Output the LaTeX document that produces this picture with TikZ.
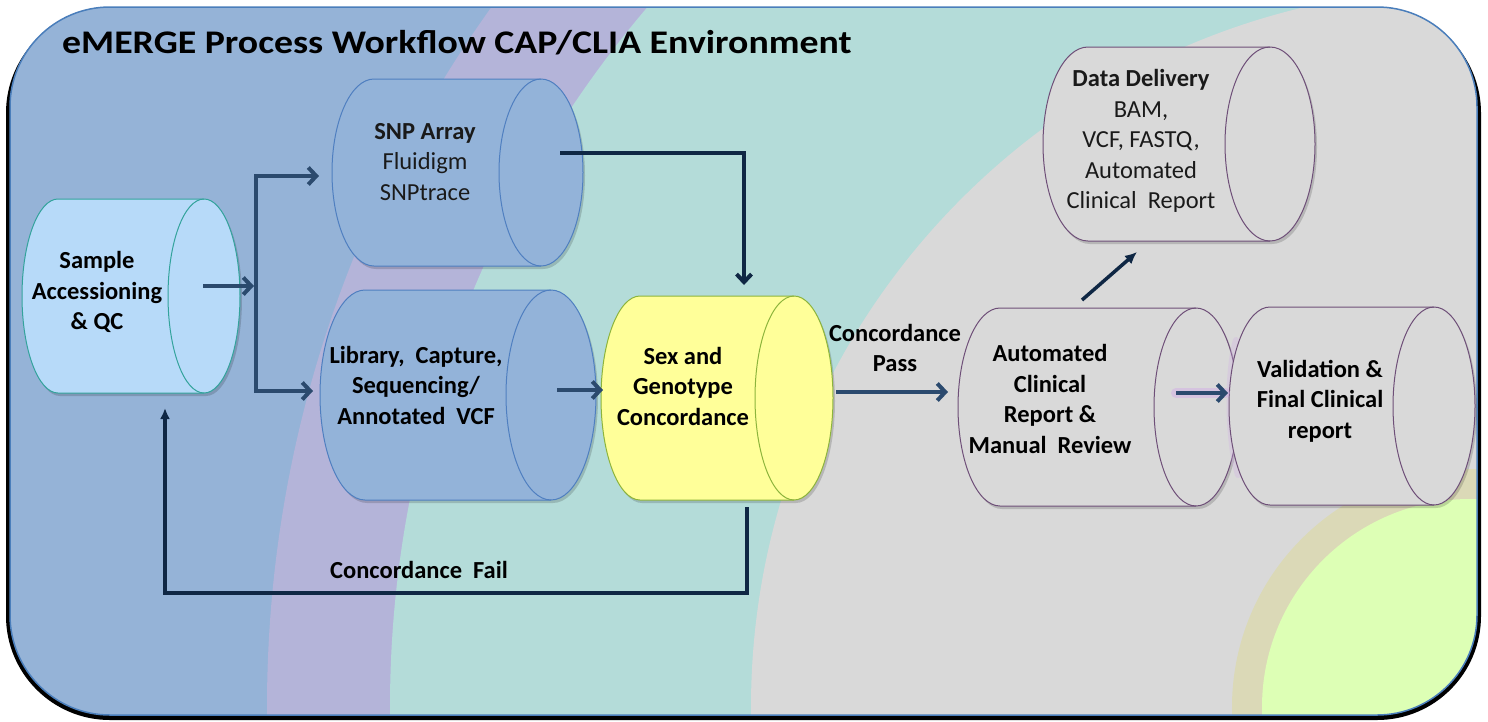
\documentclass[tikz,border=0pt]{standalone}
\usepackage{fontspec}
\setmainfont{Carlito}
\usetikzlibrary{arrows.meta,calc}

\definecolor{bgblue}{HTML}{95B3D7}
\definecolor{bgpurple}{HTML}{B4B4D9}
\definecolor{bgteal}{HTML}{B4DCD9}
\definecolor{bggrey}{HTML}{D9D9D9}
\definecolor{bgtan}{HTML}{DBD9B7}
\definecolor{bggreen}{HTML}{DDFFB5}
\definecolor{rim}{HTML}{4A7EBB}
\definecolor{navy}{HTML}{2B4A6E}
\definecolor{deepnavy}{HTML}{0F2744}
\definecolor{paleblue}{HTML}{B7DAF9}
\definecolor{tealline}{HTML}{33A39C}
\definecolor{midblue}{HTML}{93B3D9}
\definecolor{blueline}{HTML}{4F7FC0}
\definecolor{lemon}{HTML}{FFFF99}
\definecolor{oliveline}{HTML}{8DB43C}
\definecolor{stone}{HTML}{D9D9D9}
\definecolor{plumline}{HTML}{6E4F78}
\definecolor{lilac}{HTML}{D2AEE6}
\definecolor{ink}{HTML}{1A1A1A}

% drum-shaped process box lying on its side:
% #1 name, #2 style, #3 left, #4 top, #5 right, #6 bottom, #7 end radius
\newcommand\drum[7]{%
  \pgfmathsetmacro\drumry{(#6-#4)/2}%
  \node[minimum width={(#5-#3)*1pt}, minimum height={(#6-#4)*1pt},
        inner sep=0pt, outer sep=0pt] (#1) at ({(#3+#5)/2},{(#4+#6)/2}) {};
  \fill[black, opacity=0.16] ({#3+#7+2},{#4+3})
     arc[start angle=90, end angle=270, x radius=#7pt, y radius=\drumry pt]
     -- ({#5-#7+2},{#6+3})
     arc[start angle=-90, end angle=90, x radius=#7pt, y radius=\drumry pt] -- cycle;
  \path[#2] ({#3+#7},#4)
     arc[start angle=90, end angle=270, x radius=#7pt, y radius=\drumry pt]
     -- ({#5-#7},#6)
     arc[start angle=-90, end angle=90, x radius=#7pt, y radius=\drumry pt] -- cycle;
  \draw[#2, fill=none] ({#5-#7},#4)
     arc[start angle=90, end angle=270, x radius=#7pt, y radius=\drumry pt];
}

\newcommand\wsp{\hspace{0.45em}}

\begin{document}
\begin{tikzpicture}[x=1pt, y=-1pt,
  drumsample/.style={fill=paleblue, draw=tealline, line width=1pt},
  drumblue/.style={fill=midblue, draw=blueline, line width=1pt},
  drumyellow/.style={fill=lemon, draw=oliveline, line width=1pt},
  drumgrey/.style={fill=stone, draw=plumline, line width=1pt},
  lbl/.style={font=\bfseries\fontsize{24.5}{30.5}\selectfont, align=center,
              inner sep=0pt, text=black},
  lblr/.style={font=\fontsize{24.5}{30.5}\selectfont, align=center,
               inner sep=0pt, text=ink},
  flow/.style={draw=navy, line width=4pt, -{Straight Barb[length=8pt,width=17pt]}},
  trunk/.style={draw=navy, line width=4pt, line cap=rect},
  flowdark/.style={draw=deepnavy, line width=4pt,
                   -{Straight Barb[length=8pt,width=15pt]}},
  failflow/.style={draw=deepnavy, line width=4.5pt,
                   -{Latex[length=11pt,width=10pt]}},
  thinflow/.style={draw=deepnavy, line width=3.5pt,
                   -{Latex[length=12pt,width=11pt]}},
  glow/.style={draw=lilac, line width=10pt, opacity=0.5, line cap=round}
]

\useasboundingbox (0,0) rectangle (1488,721);
\fill[white] (0,0) rectangle (1488,721);

% frame with its dark shadow
\fill[black, rounded corners=104pt] (6,9) rectangle (1481,720);
\begin{scope}
  \clip[rounded corners=100pt] (10,7) rectangle (1477,715);
  \fill[bgblue]   (10,7) rectangle (1477,715);
  \fill[bgpurple] (1470,707) circle[radius=1203pt];
  \fill[bgteal]   (1470,707) circle[radius=1080pt];
  \fill[bggrey]   (1470,707) circle[radius=719pt];
  \fill[bgtan]    (1470,707) circle[radius=238pt];
  \fill[bggreen]  (1470,707) circle[radius=208pt];
\end{scope}
\draw[rim, line width=1.5pt, rounded corners=100pt] (10,7) rectangle (1477,715);

% heading
\node[anchor=base west, inner sep=0pt, font=\bfseries\fontsize{33}{40}\selectfont]
  (title) at (62,53) {\scalebox{1.146}[1]{eMERGE Process Workflow CAP/CLIA Environment}};

% process drums
\drum{sample}{drumsample}{22}{199}{240}{393}{36}
\drum{snp}{drumblue}{332}{79}{583}{266}{42}
\drum{lib}{drumblue}{320}{290}{596}{500}{45}
\drum{sex}{drumyellow}{601}{296}{833}{500}{39}
\drum{data}{drumgrey}{1043}{47}{1315}{241}{45}
\drum{auto}{drumgrey}{958}{308}{1238}{506}{42}
\draw[glow, line width=6pt, opacity=0.3] (1236,340) .. controls (1227,370) and (1227,440) .. (1238,475);
\drum{valid}{drumgrey}{1229}{307}{1475}{505}{41}

% drum labels
\node[lbl] (sampletxt) at (97,292) {Sample\\Accessioning\\\& QC};
\node[lblr] (snptxt) at (425,162) {\textbf{SNP Array}\\Fluidigm\\SNPtrace};
\node[lbl] (libtxt) at (416,385) {Library,\wsp Capture,\\Sequencing/\\Annotated\wsp VCF};
\node[lbl] (sextxt) at (683,386) {Sex and\\Genotype\\Concordance};
\node[lblr] (datatxt) at (1141,141) {\textbf{Data Delivery}\\BAM,\\VCF, FASTQ,\\Automated\\Clinical\wsp Report};
\node[lbl] (autotxt) at (1050,399) {Automated\\Clinical\\Report \&\\Manual\wsp Review};
\node[lbl] (validtxt) at (1320,401) {Validation \&\\Final Clinical\\report};

% connectors
\coordinate (jn)   at (256,286);
\coordinate (jtop) at (256,176);
\coordinate (jbot) at (256,391);
\draw[flow, shorten >=2pt] ([shift={(-37,-10)}]sample.east) -- (jn);
\draw[trunk] (jtop) -- (jbot);
\draw[flow, shorten >=13pt] (jtop) -- (jtop -| snp.west);
\draw[flow, shorten >=7pt] (jbot) -- (jbot -| lib.west);

\draw[flowdark] ($(snp.east)+(-23,-20)$) -| ($(sex.north)+(27,-11)$);
\draw[flow] ($(lib.east)+(-39,-5)$) -- ($(sex.west)+(2,-8)$);

\draw[flow] ($(sex.east)+(3,-6)$) -- ($(auto.west)+(-10,-15)$);
\node[lbl] (passlbl) at (895,348) {Concordance\\Pass};

\draw[glow] ($(auto.east)+(-62,-14)$) -- ($(valid.west)+(-4,-13)$);
\draw[flow] ($(auto.east)+(-62,-14)$) -- ($(valid.west)+(-1,-13)$);

\draw[thinflow] ($(auto.north)+(-16,-8)$) -- ($(data.south)+(-42,11)$);

\draw[failflow] ($(sex.south)+(30,7)$) |- ($(sample.south)+(34,200)$)
  -- ($(sample.south)+(34,15)$);
\node[lbl] (faillbl) at (419,570) {Concordance\wsp Fail};

\end{tikzpicture}
\end{document}
